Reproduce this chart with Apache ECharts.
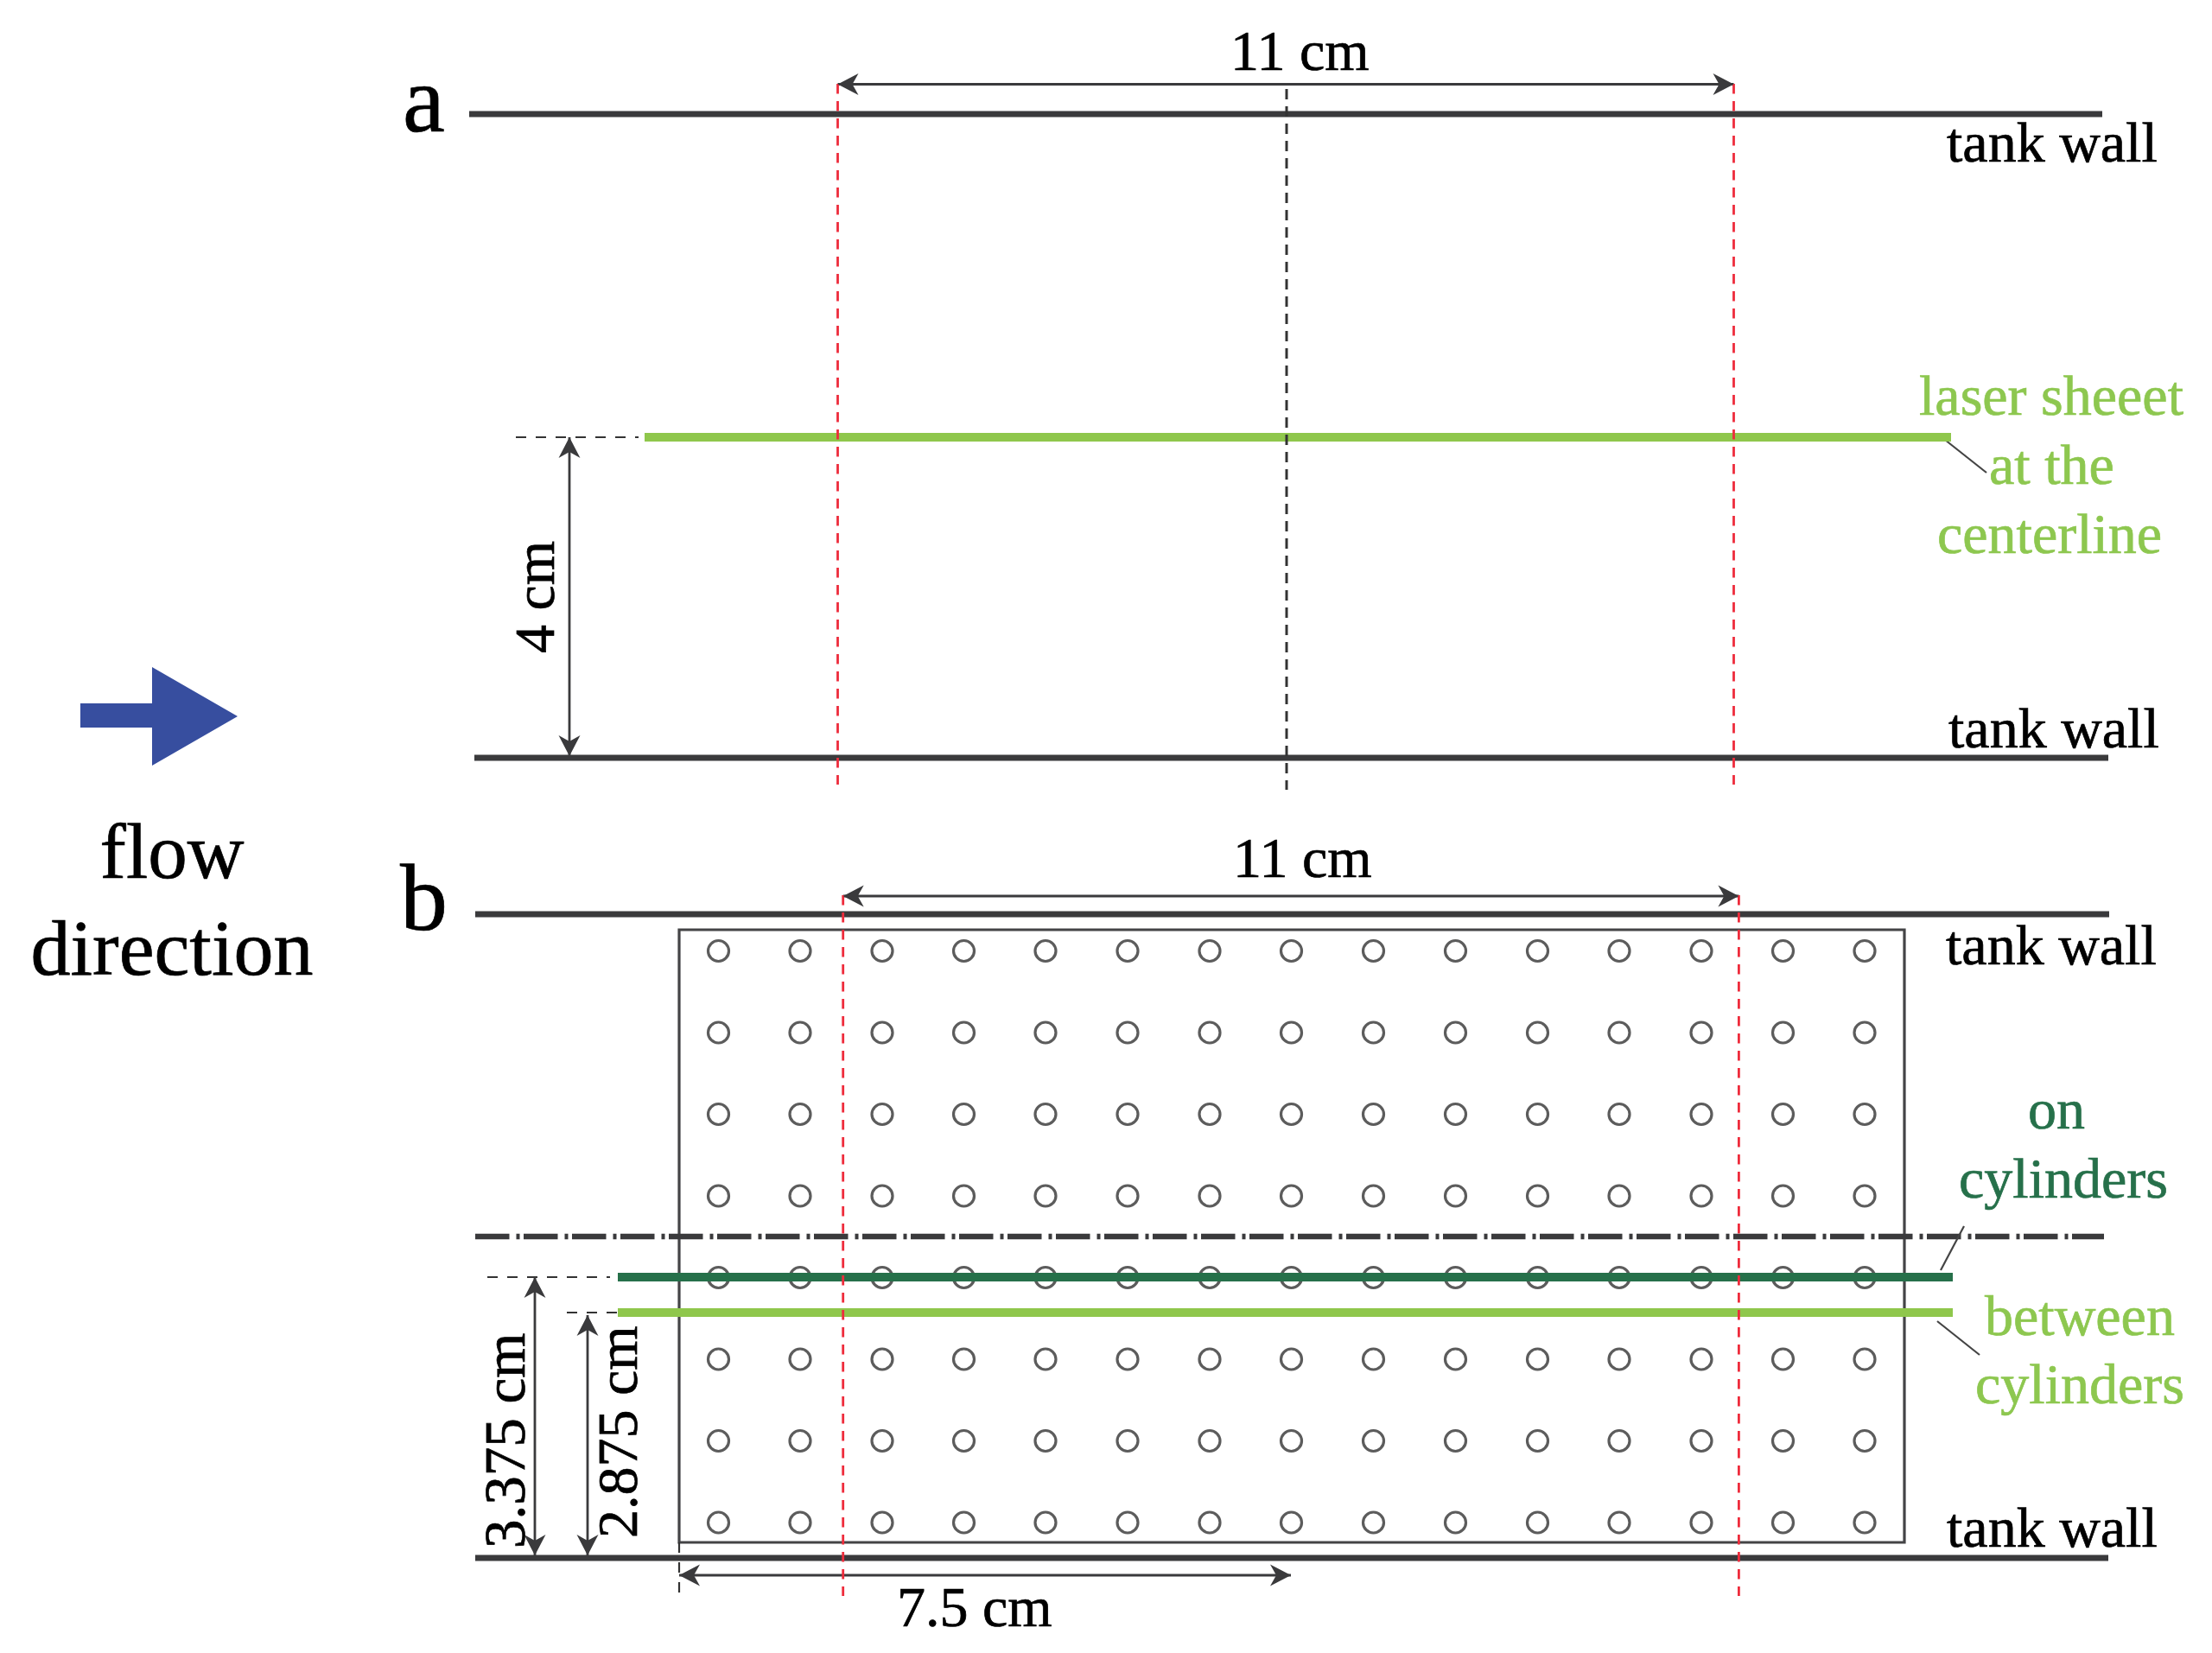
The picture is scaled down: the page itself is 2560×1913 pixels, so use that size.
<!DOCTYPE html>
<html>
<head>
<meta charset="utf-8">
<style>html,body{margin:0;padding:0;background:#fff}#c{width:2560px;height:1913px}</style>
<script src="https://cdn.jsdelivr.net/npm/echarts@6/dist/echarts.min.js"></script>
</head>
<body>
<div id="c"></div>
<script>
// All coordinates are diagram units on the hidden axes (0-2560, 0-1913)
const tankWalls = [[543,132,2433],[549,877,2440],[550,1058,2441],[550,1803,2440]];
const laserCenterline = [[746,506],[2258,506]];
const laserOnCylinders = [[715,1478],[2260,1478]];
const laserBetweenCylinders = [[715,1519],[2260,1519]];
const symmetryLine = [[550,1431],[2435,1431]];
const cylinderBox = [[786,1076],[2204,1076],[2204,1785],[786,1785],[786,1076]];
const redLinesA = [[969.5,97,908],[2006.5,97,908]];
const redLinesB = [[975.7,1036,1847],[2012.4,1036,1847]];
const centerDash = [[1489,103],[1489,914]];
const thinDashes = [[[597,506],[739,506]],[[564,1478],[706,1478]],[[656,1519],[715,1519]],[[786,1785],[786,1850]]];
const leaders = [[[2251,509],[2299,547]],[[2246,1470],[2273,1419]],[[2242,1529],[2291,1568]]];
const dimensionArrows = [
  [969.5,97.5,2006.5,97.5],[975.7,1037,2012.4,1037],[659,506,659,875],
  [619,1478,619,1800],[680,1522,680,1800],[786,1823,1494,1823]
];
const cylinderX = [831.5,926,1021,1115.5,1210,1305,1400,1494.5,1589.5,1684.5,1779.5,1874,1969,2063.5,2158];
const cylinderY = [1100.5,1195,1289.5,1384,1478.5,1573,1667.5,1762];
const flowArrow = [[93,814],[176,814],[176,772],[275,829],[176,886],[176,842],[93,842]];
// text, anchor x, baseline y, font size, colour key, align, rotated
const labels = [
  ['a',466,153,110,'k','left',0],['b',463,1077,110,'k','left',0],
  ['11 cm',1424,81,66,'k','left',0],['11 cm',1427,1015,66,'k','left',0],
  ['tank wall',2253,187,66,'k','left',0],['tank wall',2255,865,66,'k','left',0],
  ['tank wall',2252,1116,66,'k','left',0],['tank wall',2253,1790,66,'k','left',0],
  ['laser sheeet',2221,480,66,'l','left',0],['at the',2302,560,66,'l','left',0],['centerline',2242,640,66,'l','left',0],
  ['on',2347,1306,66,'d','left',0],['cylinders',2267,1386,66,'d','left',0],
  ['between',2297,1545,66,'l','left',0],['cylinders',2286,1624,66,'l','left',0],
  ['flow',199,1017,91,'k','center',0],['direction',199,1129,92,'k','center',0],
  ['7.5 cm',1038,1882,66,'k','left',0],
  ['4 cm',641,756,66,'k','left',1],['3.375 cm',607,1792,67,'k','left',1],['2.875 cm',737,1780,66,'k','left',1]
];
const colors = {k:'#000000', l:'#8DC74F', d:'#26704A'};
const DARK = '#3A3A3C', RED = '#EE2C3C';

function seg(data, width, color, dash, z, cap){
  return {type:'line', data:data, symbol:'none', silent:true, animation:false, z:z,
    lineStyle:{width:width, color:color, type:dash||'solid', cap:cap||'butt', join:'miter'}};
}
const series = [];
tankWalls.forEach(w => series.push(seg([[w[0],w[1]],[w[2],w[1]]],7,DARK,null,3)));
series.push(seg(cylinderBox,3.2,'#444446',null,2,'square'));
series.push(seg(symmetryLine,6.5,DARK,[39.5,8,4,4.5],3));
series.push(seg(laserCenterline,10,'#8FC74C',null,4));
series.push(seg(laserOnCylinders,10,'#26704A',null,4));
series.push(seg(laserBetweenCylinders,10,'#8FC74C',null,4));
redLinesA.concat(redLinesB).forEach(r => series.push(seg([[r[0],r[1]],[r[0],r[2]]],2.8,RED,[11.5,8.5],6)));
series.push(seg(centerDash,3,'#333',[12,8],5));
thinDashes.forEach(d => series.push(seg(d,2.2,'#333',[12,11],3)));
leaders.forEach(d => series.push(seg(d,2.2,'#444',null,3)));
dimensionArrows.forEach(a => series.push(seg([[a[0],a[1]],[a[2],a[3]]],2.8,DARK,null,5)));

// cylinders
const cylinders = [];
cylinderY.forEach(y => cylinderX.forEach(x => cylinders.push([x,y])));
series.push({type:'scatter', data:cylinders, symbol:'circle', symbolSize:24, silent:true, animation:false, z:2,
  itemStyle:{color:'rgba(0,0,0,0)', borderColor:'#333', borderWidth:3.2}});

// arrow heads
const heads = [];
dimensionArrows.forEach(a => {
  const ang = Math.atan2(a[3]-a[1], a[2]-a[0]);
  heads.push([a[2],a[3],ang]); heads.push([a[0],a[1],ang+Math.PI]);
});
series.push({type:'custom', coordinateSystem:'cartesian2d', data:heads, silent:true, animation:false, z:7,
  renderItem:function(p,api){
    const c = api.coord([api.value(0),api.value(1)]);
    return {type:'polygon', x:c[0], y:c[1], rotation:-api.value(2),
      shape:{points:[[0,0],[-24,-12.5],[-17,0],[-24,12.5]]}, style:{fill:DARK}};
  }});
// flow arrow
series.push({type:'custom', coordinateSystem:'cartesian2d', data:[[0]], silent:true, animation:false, z:4,
  renderItem:function(p,api){
    return {type:'polygon', shape:{points:flowArrow.map(q=>api.coord(q))}, style:{fill:'#374E9F'}};
  }});
// labels
series.push({type:'custom', coordinateSystem:'cartesian2d', data:labels.map((l,i)=>[l[1],l[2],i]),
  silent:true, animation:false, z:8,
  renderItem:function(p,api){
    const l = labels[api.value(2)];
    const c = api.coord([api.value(0),api.value(1)]);
    return {type:'text', x:c[0], y:c[1], rotation:l[6]?Math.PI/2:0,
      style:{text:l[0], x:0, y:-0.27*l[3], fill:colors[l[4]], stroke:colors[l[4]], lineWidth:0.7,
        align:l[5], verticalAlign:'middle', font:l[3]+'px "Liberation Serif"'}};
  }});

const chart = echarts.init(document.getElementById('c'), null, {renderer:'canvas'});
chart.setOption({
  backgroundColor:'#fff', animation:false, tooltip:{show:false}, legend:{show:false},
  grid:{left:0,right:0,top:0,bottom:0},
  xAxis:{type:'value',min:0,max:2560,show:false},
  yAxis:{type:'value',min:0,max:1913,inverse:true,show:false},
  series:series
});
</script>
</body>
</html>
